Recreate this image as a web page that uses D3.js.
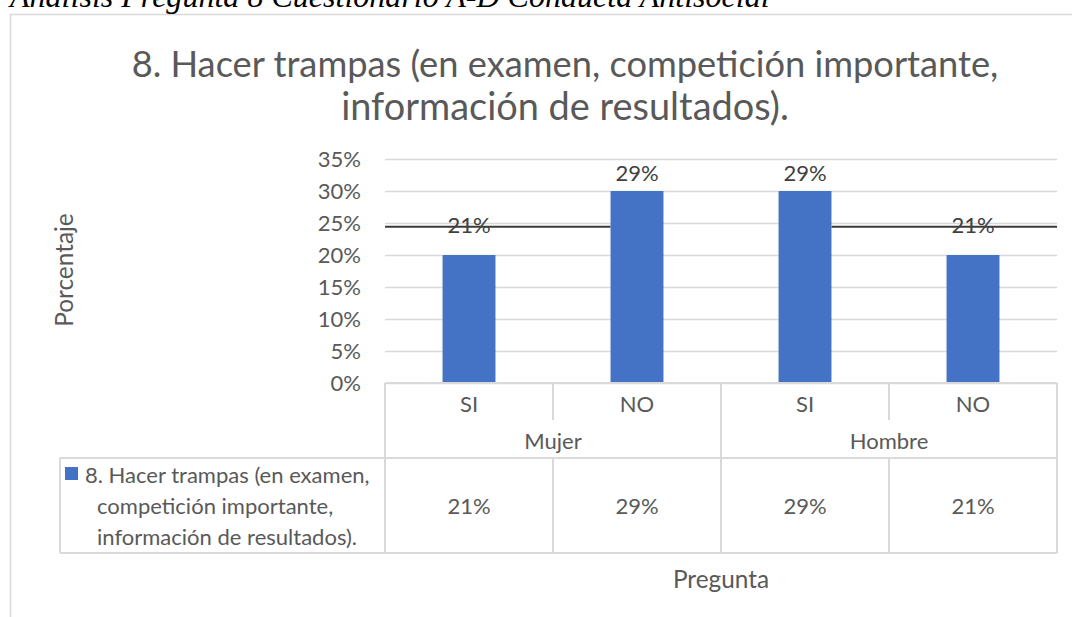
<!DOCTYPE html>
<html>
<head>
<meta charset="utf-8">
<script src="https://cdn.jsdelivr.net/npm/d3@7/dist/d3.min.js"></script>
<style>
  html, body { margin: 0; padding: 0; background: #fff; }
  svg { display: block; }
</style>
</head>
<body>
<svg id="chart" width="1072" height="617"></svg>
<script>
// ---- data ----
const caption = "Análisis Pregunta 8 Cuestionario A-D Conducta Antisocial";
const titleLines = ["8. Hacer trampas (en examen, competición importante,", "información de resultados)."];
const categories = ["SI", "NO", "SI", "NO"];
const groups = ["Mujer", "Hombre"];
const barValues = [20, 30, 30, 20];          // bar heights as drawn (%)
const labelValues = [21, 29, 29, 21];        // data labels / table values (%)
const refLineValue = 24.4;                   // dark horizontal line (%)
const yTicks = [0, 5, 10, 15, 20, 25, 30, 35];
const seriesName = ["8. Hacer trampas (en examen,", "competición importante,", "información de resultados)."];
const xTitle = "Pregunta";
const yTitle = "Porcentaje";

// ---- setup ----
const svg = d3.select("#chart");
const FONT = "Lato, 'Open Sans', sans-serif";
// scale factor so Lato widths approximate Calibri widths
const probe = svg.append("text").attr("font-family", FONT).attr("font-size", 100).text("Pregunta");
const k = 369.9 / probe.node().getComputedTextLength();
probe.remove();
const fs = px => (px * k).toFixed(2) + "px";

const plot = { left: 385, right: 1057, top: 159, bottom: 383 };
const rowH1 = 420, rowH2 = 458, tableBottom = 553, legendLeft = 60;
const grid = "#d9d9d9", textGray = "#595959", labelGray = "#404040", blue = "#4472C4";

// chart border
svg.append("rect").attr("x", 10.5).attr("y", 14.5).attr("width", 1200).attr("height", 700)
  .attr("fill", "none").attr("stroke", grid).attr("stroke-width", 1.5);

// caption (cut at top)
const cap = svg.append("text").attr("x", 10).attr("y", 7)
  .attr("font-family", "'Liberation Serif', 'Times New Roman', serif").attr("font-style", "italic")
  .attr("font-size", 30).attr("fill", "#000").text(caption);
{
  const w = cap.node().getComputedTextLength();
  cap.attr("font-size", 30 * 760 / w);
}

// title
const titleWidths = [867, 448];
titleLines.forEach((t, i) => {
  const el = svg.append("text").attr("x", 565).attr("y", [77, 120][i]).attr("text-anchor", "middle")
    .attr("font-family", FONT).attr("font-size", 36).attr("fill", textGray).text(t);
  const w = el.node().getComputedTextLength();
  el.attr("font-size", 36 * titleWidths[i] / w);
});

// scales
const x = d3.scaleBand().domain(d3.range(categories.length)).range([plot.left, plot.right]).padding(0);
const y = d3.scaleLinear().domain([0, 35]).range([plot.bottom, plot.top]);
const barW = x.bandwidth() * 0.315;

// gridlines
svg.append("g").attr("transform", `translate(${plot.left},0)`)
  .call(d3.axisLeft(y).tickValues(yTicks).tickSize(-(plot.right - plot.left)).tickFormat(""))
  .call(g => g.select(".domain").remove())
  .call(g => g.selectAll("line").attr("stroke", grid).attr("stroke-width", 1.3));

// y tick labels
svg.append("g").attr("transform", `translate(${plot.left},0)`)
  .call(d3.axisLeft(y).tickValues(yTicks).tickSize(0).tickPadding(24).tickFormat(d => d + "%"))
  .call(g => g.select(".domain").remove())
  .call(g => g.selectAll("text").attr("fill", textGray).attr("font-family", FONT).attr("font-size", fs(23.5)));

// reference line segments (hidden behind middle bars)
const segs = [
  [plot.left, x(1) + (x.bandwidth() - barW) / 2],
  [x(2) + (x.bandwidth() + barW) / 2, plot.right]
];
svg.append("g").selectAll("line").data(segs).join("line")
  .attr("x1", d => d[0]).attr("x2", d => d[1])
  .attr("y1", y(refLineValue)).attr("y2", y(refLineValue))
  .attr("stroke", "#3a3a3a").attr("stroke-width", 2);

// bars
svg.append("g").selectAll("rect").data(barValues).join("rect")
  .attr("x", (d, i) => x(i) + (x.bandwidth() - barW) / 2)
  .attr("width", barW)
  .attr("y", d => y(d))
  .attr("height", d => y(0) - y(d))
  .attr("fill", blue);

// data labels
svg.append("g").selectAll("text").data(labelValues).join("text")
  .attr("x", (d, i) => x(i) + x.bandwidth() / 2)
  .attr("y", d => y(d) - 16)
  .attr("text-anchor", "middle")
  .attr("font-family", FONT).attr("font-size", fs(23.5)).attr("fill", labelGray)
  .text(d => d + "%");

// ---- data table ----
const tbl = svg.append("g").attr("stroke", grid).attr("stroke-width", 2).attr("fill", "none");
// top line (axis)
tbl.append("line").attr("x1", plot.left).attr("x2", plot.right).attr("y1", plot.bottom).attr("y2", plot.bottom);
// legend row top / bottom
tbl.append("line").attr("x1", legendLeft).attr("x2", plot.right).attr("y1", rowH2).attr("y2", rowH2);
tbl.append("line").attr("x1", legendLeft).attr("x2", plot.right).attr("y1", tableBottom).attr("y2", tableBottom);
tbl.append("line").attr("x1", legendLeft).attr("x2", legendLeft).attr("y1", rowH2).attr("y2", tableBottom);
// vertical lines
d3.range(categories.length + 1).forEach(i => {
  const xx = i < categories.length ? x(i) : plot.right;
  const full = (i % 2 === 0);
  if (full) {
    tbl.append("line").attr("x1", xx).attr("x2", xx).attr("y1", plot.bottom).attr("y2", tableBottom);
  } else {
    tbl.append("line").attr("x1", xx).attr("x2", xx).attr("y1", plot.bottom).attr("y2", rowH1);
    tbl.append("line").attr("x1", xx).attr("x2", xx).attr("y1", rowH2).attr("y2", tableBottom);
  }
});

const tText = svg.append("g").attr("font-family", FONT).attr("fill", textGray).attr("font-size", fs(23.5))
  .attr("text-anchor", "middle").attr("dominant-baseline", "central");
categories.forEach((c, i) => {
  tText.append("text").attr("x", x(i) + x.bandwidth() / 2).attr("y", 403).text(c);
  tText.append("text").attr("x", x(i) + x.bandwidth() / 2).attr("y", 505).text(labelValues[i] + "%");
});
groups.forEach((g, gi) => {
  tText.append("text").attr("x", x(gi * 2) + x.bandwidth()).attr("y", 440).text(g);
});

// legend key + series name
svg.append("rect").attr("x", 65).attr("y", 467).attr("width", 13).attr("height", 13).attr("fill", blue);
seriesName.forEach((t, i) => {
  svg.append("text").attr("x", i === 0 ? 85 : 97).attr("y", [474, 505, 536][i])
    .attr("dominant-baseline", "central")
    .attr("font-family", FONT).attr("font-size", fs(23.5)).attr("fill", textGray).text(t);
});

// axis titles
svg.append("text").attr("x", (plot.left + plot.right) / 2).attr("y", 578)
  .attr("text-anchor", "middle").attr("dominant-baseline", "central")
  .attr("font-family", FONT).attr("font-size", fs(26)).attr("fill", textGray).text(xTitle);
svg.append("text").attr("transform", "translate(63,270) rotate(-90)")
  .attr("text-anchor", "middle").attr("dominant-baseline", "central")
  .attr("font-family", FONT).attr("font-size", fs(26)).attr("fill", textGray).text(yTitle);
</script>
</body>
</html>
